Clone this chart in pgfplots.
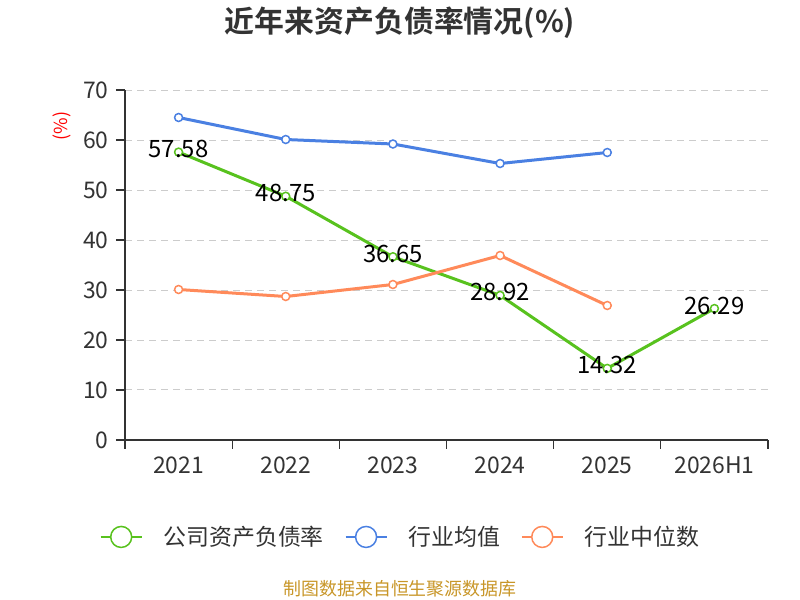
\documentclass[border=0pt]{standalone}
\usepackage{pgfplots}
\pgfplotsset{compat=1.18}
\usepackage{fontspec}
\setmainfont{Noto Sans CJK SC}[BoldFont={Noto Sans CJK SC Bold}]
\definecolor{cgreen}{RGB}{88,194,30}
\definecolor{cblue}{RGB}{74,128,226}
\definecolor{corange}{RGB}{255,138,90}
\definecolor{ctext}{RGB}{51,51,51}
\definecolor{cgrid}{RGB}{204,204,204}
\definecolor{cfoot}{RGB}{200,150,40}
\begin{document}
\begin{tikzpicture}
\useasboundingbox (0bp,0bp) rectangle (800bp,600bp);
\node[font=\fontsize{30}{34}\selectfont\bfseries, text=ctext] at (400bp,577bp) {近年来资产负债率情况(\%)};
\node[rotate=90, text=red, font=\fontsize{18}{21}\selectfont] at (62bp,474bp) {(\%)};
\node[text=cfoot, font=\fontsize{18}{21}\selectfont] at (400bp,11bp) {制图数据来自恒生聚源数据库};
\begin{axis}[
  at={(125bp,160bp)}, anchor=south west,
  scale only axis, width=643bp, height=350bp,
  xmin=-0.5, xmax=5.5, ymin=0, ymax=70,
  ytick={0,10,...,70},
  xtick={-0.5,0.5,...,5.5},
  xticklabels={2021,2022,2023,2024,2025,2026H1},
  x tick label as interval,
  axis x line=bottom, axis y line=left,
  axis line style={-, draw=ctext, line width=1.2bp},
  tick style={draw=ctext, line width=1.2bp},
  tick align=outside,
  major tick length=9bp,
  ymajorgrids,
  grid style={cgrid, dash pattern=on 7bp off 5bp, line width=1bp},
  /pgf/number format/assume math mode=true,
  yticklabel style={font=\fontsize{23}{27}\selectfont, text=ctext, xshift=-4bp},
  xticklabel style={font=\fontsize{23}{27}\selectfont, text=ctext, yshift=-4bp},
  clip=false,
  legend image code/.code={
    \draw[line width=1.5bp] (0bp,0bp) -- (41bp,0bp);
    \draw[line width=1.5bp, fill=white] (20.5bp,0bp) circle (10.5bp);
  },
  legend style={at={(0.4277,-0.277)}, anchor=center, draw=none, fill=none,
    font=\fontsize{23}{27}\selectfont, text=ctext,
    nodes={inner sep=1bp},
    /tikz/every odd column/.style={column sep=20bp},
    /tikz/every even column/.style={column sep=20bp}},
  legend columns=3,
  legend cell align=left,
]
\addplot[cgreen, line width=3bp, mark=*, mark size=4bp, mark options={fill=white, line width=1.5bp},
  nodes near coords={\pgfmathprintnumber[fixed, fixed zerofill, precision=2]{\pgfplotspointmeta}},
  every node near coord/.append style={text=black, anchor=center, yshift=3bp, font=\fontsize{24}{28}\selectfont}]
  coordinates {(0,57.58) (1,48.75) (2,36.65) (3,28.92) (4,14.32) (5,26.29)};
\addlegendentry{公司资产负债率}
\addplot[cblue, line width=3bp, mark=*, mark size=4bp, mark options={fill=white, line width=1.5bp}]
  coordinates {(0,64.5) (1,60.1) (2,59.2) (3,55.3) (4,57.5)};
\addlegendentry{行业均值}
\addplot[corange, line width=3bp, mark=*, mark size=4bp, mark options={fill=white, line width=1.5bp}]
  coordinates {(0,30.1) (1,28.7) (2,31.1) (3,36.9) (4,26.9)};
\addlegendentry{行业中位数}
\end{axis}
\end{tikzpicture}
\end{document}
